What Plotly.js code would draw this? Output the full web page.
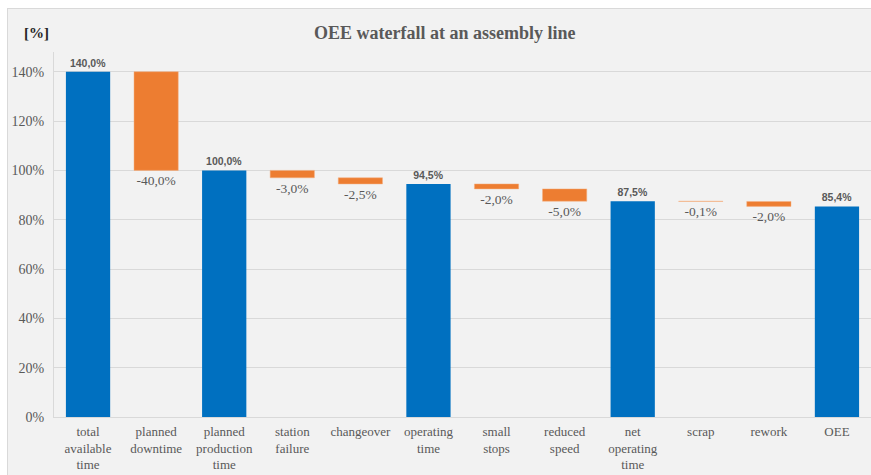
<!DOCTYPE html>
<html><head><meta charset="utf-8">
<script src="https://cdn.plot.ly/plotly-3.0.1.min.js"></script>
<style>
html,body{margin:0;padding:0;background:#fff;width:871px;height:475px;overflow:hidden}
#box{position:absolute;left:7px;top:8px;width:864px;height:467px;border-left:1px solid #d9d9d9;border-top:1px solid #d9d9d9;background:#f2f2f2;box-sizing:border-box}
#chart{position:absolute;left:0;top:0;width:863px;height:466px}
</style></head>
<body>
<div id="box"><div id="chart"></div></div>
<script>
const categories = ["total<br>available<br>time","planned<br>downtime","planned<br>production<br>time","station<br>failure","changeover","operating<br>time","small<br>stops","reduced<br>speed","net<br>operating<br>time","scrap","rework","OEE"];
const values = [140.0, -40.0, 100.0, -3.0, -2.5, 94.5, -2.0, -5.0, 87.5, -0.1, -2.0, 85.4];
const measures = ["absolute","relative","absolute","relative","relative","absolute","relative","relative","absolute","relative","relative","absolute"];

const labels = values.map(v => v.toFixed(1).replace('.', ',') + '%');
const isTotal = measures.map(m => m === "absolute");
const SERIF = 'Liberation Serif';
const SANS = 'Liberation Sans';

const trace = {
  type: 'waterfall',
  x: categories,
  y: values,
  measure: measures,
  text: labels,
  textposition: 'outside',
  textfont: {
    family: isTotal.map(t => t ? SANS : SERIF),
    size: isTotal.map(t => t ? 10.5 : 13.5),
    color: '#595959',
    weight: isTotal.map(t => t ? 'bold' : 'normal')
  },
  constraintext: 'none',
  cliponaxis: false,
  connector: {visible: false},
  increasing: {marker: {color: '#ed7d31'}},
  decreasing: {marker: {color: '#ed7d31', line: {color: '#f4b183', width: 0.5}}},
  totals: {marker: {color: '#0070c0'}},
  hoverinfo: 'x+text'
};

const layout = {
  width: 863, height: 466,
  margin: {l: 46, r: 0, t: 43, b: 58},
  paper_bgcolor: '#f2f2f2',
  plot_bgcolor: '#f2f2f2',
  showlegend: false,
  waterfallgap: 0.35,
  title: {
    text: '<b>OEE waterfall at an assembly line</b>',
    font: {family: SERIF, size: 18, color: '#595959'},
    x: 0.506, xref: 'container', xanchor: 'center',
    y: 0.95, yref: 'container', yanchor: 'middle'
  },
  xaxis: {
    type: 'category',
    showgrid: false,
    showline: true, linecolor: '#d9d9d9', linewidth: 1,
    ticks: '',
    tickfont: {family: SERIF, size: 13, color: '#595959'},
    ticklabelstandoff: 2,
    zeroline: false
  },
  yaxis: {
    range: [0, 148],
    dtick: 20,
    tick0: 0,
    ticksuffix: '%',
    showgrid: true, gridcolor: '#d9d9d9', gridwidth: 1,
    showline: true, linecolor: '#d9d9d9', linewidth: 1,
    zeroline: false,
    ticks: '',
    tickfont: {family: SERIF, size: 14, color: '#595959'},
    ticklabelstandoff: 6
  },
  annotations: [{
    text: '<b>[%]</b>',
    xref: 'paper', yref: 'paper',
    x: -0.021, y: 1.052,
    xanchor: 'center', yanchor: 'middle',
    showarrow: false,
    font: {family: SERIF, size: 15, color: '#262626'}
  }]
};

Plotly.newPlot('chart', [trace], layout, {displayModeBar: false, staticPlot: true});
</script>
</body></html>
